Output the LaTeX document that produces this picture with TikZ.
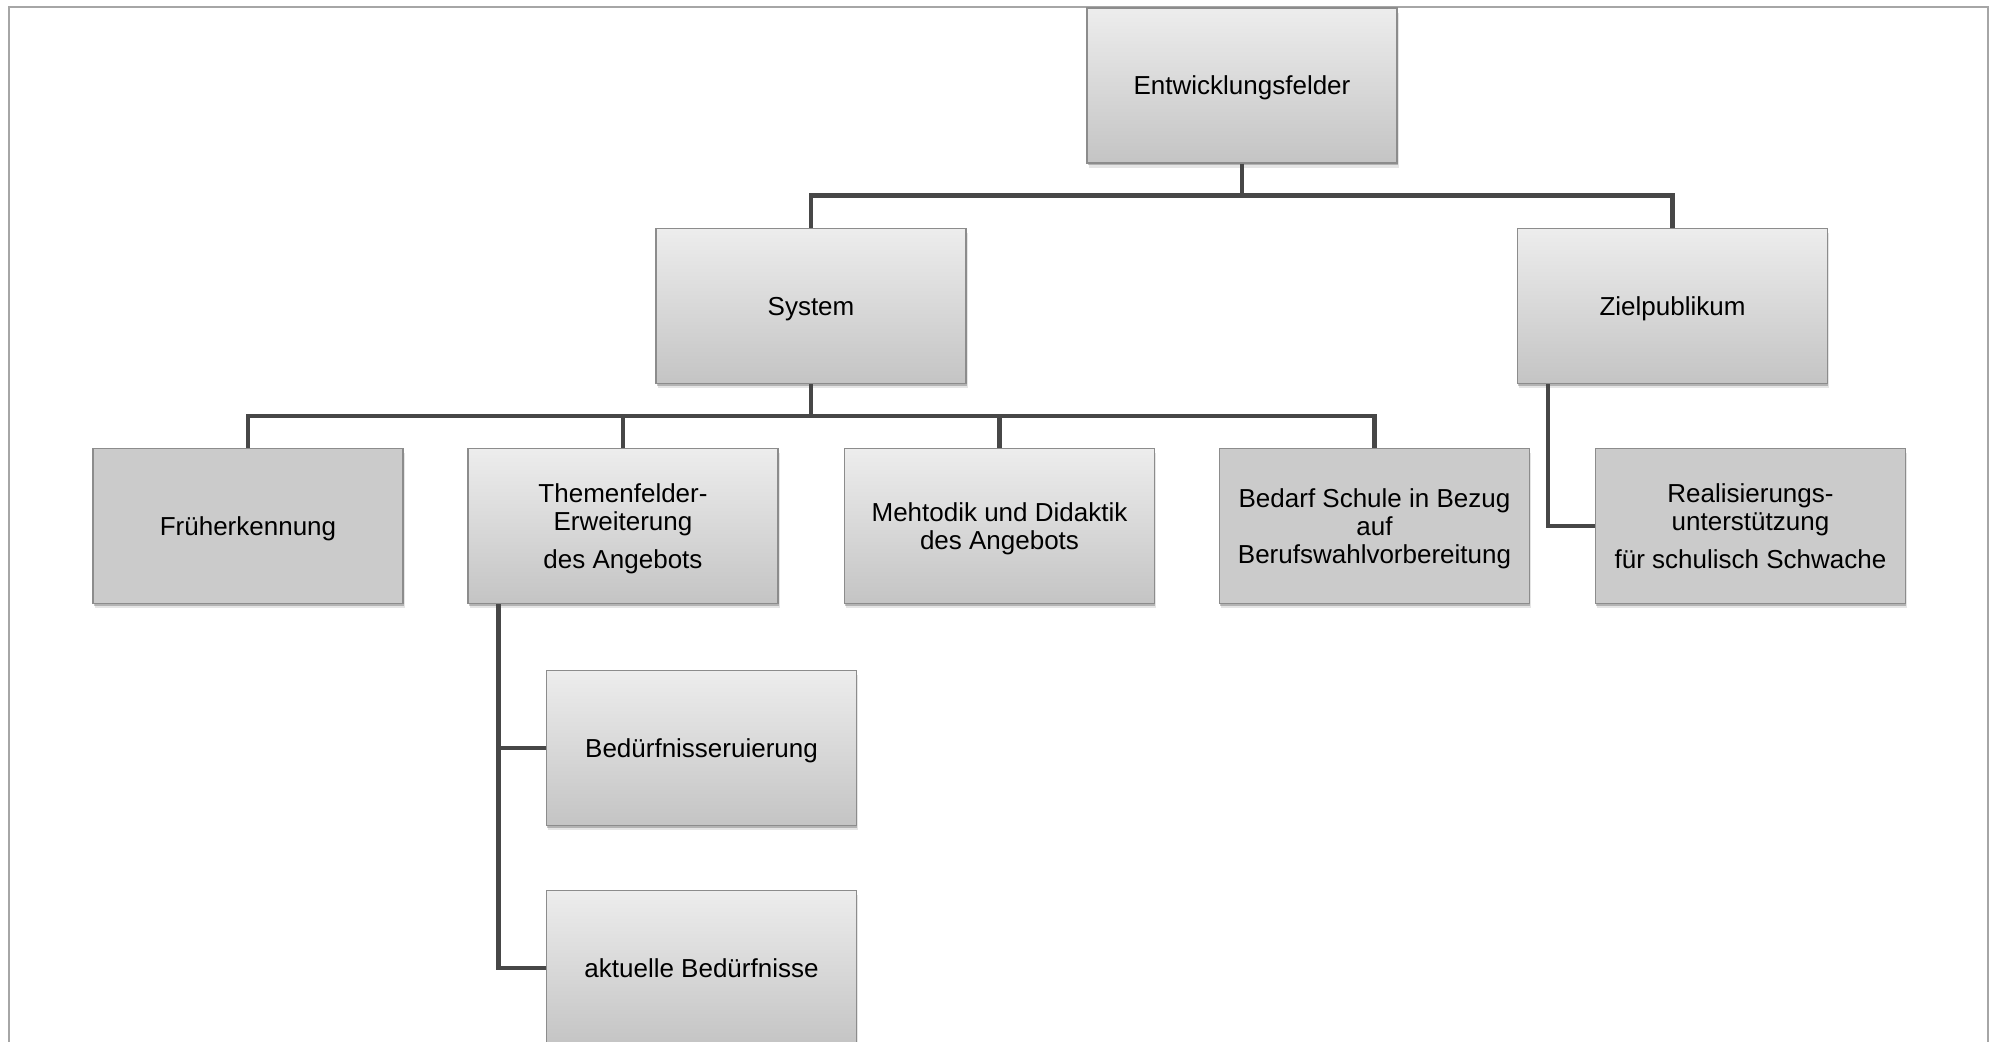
\documentclass[tikz,border=0pt]{standalone}
\usepackage{fontspec}
\setmainfont{Liberation Sans}
\usetikzlibrary{shadows}
\definecolor{boxtop}{HTML}{EDEDED}
\definecolor{boxbot}{HTML}{C4C4C4}
\definecolor{boxflat}{HTML}{CBCBCB}
\definecolor{boxline}{HTML}{8C8C8C}
\definecolor{conn}{HTML}{474747}
\definecolor{frame}{HTML}{A6A6A6}
\tikzset{
  basebox/.style={draw=boxline, line width=0.6pt, minimum width=155pt, minimum height=77.5pt,
    inner sep=2pt, align=center, text depth=0pt, font=\fontsize{13}{14}\selectfont,
    drop shadow={shadow xshift=0.4pt, shadow yshift=-1.2pt, opacity=0.22, fill=black},
    drop shadow={shadow xshift=0.8pt, shadow yshift=-2.4pt, opacity=0.10, fill=black}},
  gradbox/.style={basebox, top color=boxtop, bottom color=boxbot},
  flatbox/.style={basebox, fill=boxflat},
  connector/.style={draw=conn, line width=2.25pt, line join=miter}
}
\begin{document}
\begin{tikzpicture}[x=0.5pt, y=-0.5pt]
\useasboundingbox (0,0) rectangle (1994,1041);
\clip (0,0) rectangle (1994,1041);
\draw[frame, line width=0.75pt] (9,1045) -- (9,7) -- (1988,7) -- (1988,1045);

\node[gradbox] (ent) at (1242,85.5) {Entwicklungsfelder};
\node[gradbox] (sys) at (811,306) {System};
\node[gradbox] (ziel) at (1672.5,306) {Zielpublikum};

\node[flatbox] (fru) at (248,526) {Früherkennung};
\node[gradbox] (the) at (623,526) {Themenfelder-\\Erweiterung\\[5pt]des Angebots};
\node[gradbox] (met) at (999.5,526) {Mehtodik und Didaktik\\des Angebots};
\node[flatbox] (bed) at (1374.5,526) {Bedarf Schule in Bezug\\auf\\Berufswahlvorbereitung};
\node[flatbox] (rea) at (1750.5,526) {Realisierungs-\\unterstützung\\[5pt]für schulisch Schwache};

\node[gradbox] (bdu) at (701.5,748) {Bedürfnisseruierung};
\node[gradbox] (akt) at (701.5,968) {aktuelle Bedürfnisse};

\coordinate (b1) at (1242,195.5);
\coordinate (b2) at (811,416);

\draw[connector] (ent.south) -- (b1);
\draw[connector] (sys.north) |- (b1) -| (ziel.north);

\draw[connector] (sys.south) -- (b2);
\draw[connector] (fru.north) |- (b2) -| (bed.north);
\draw[connector] (the.north) -- (the.north |- b2);
\draw[connector] (met.north) -- (met.north |- b2);

\draw[connector] ([xshift=15.5pt]ziel.south west) |- (rea.west);
\draw[connector] ([xshift=15.5pt]the.south west) |- (bdu.west);
\draw[connector] ([xshift=15.5pt]the.south west) |- (akt.west);
\end{tikzpicture}
\end{document}
